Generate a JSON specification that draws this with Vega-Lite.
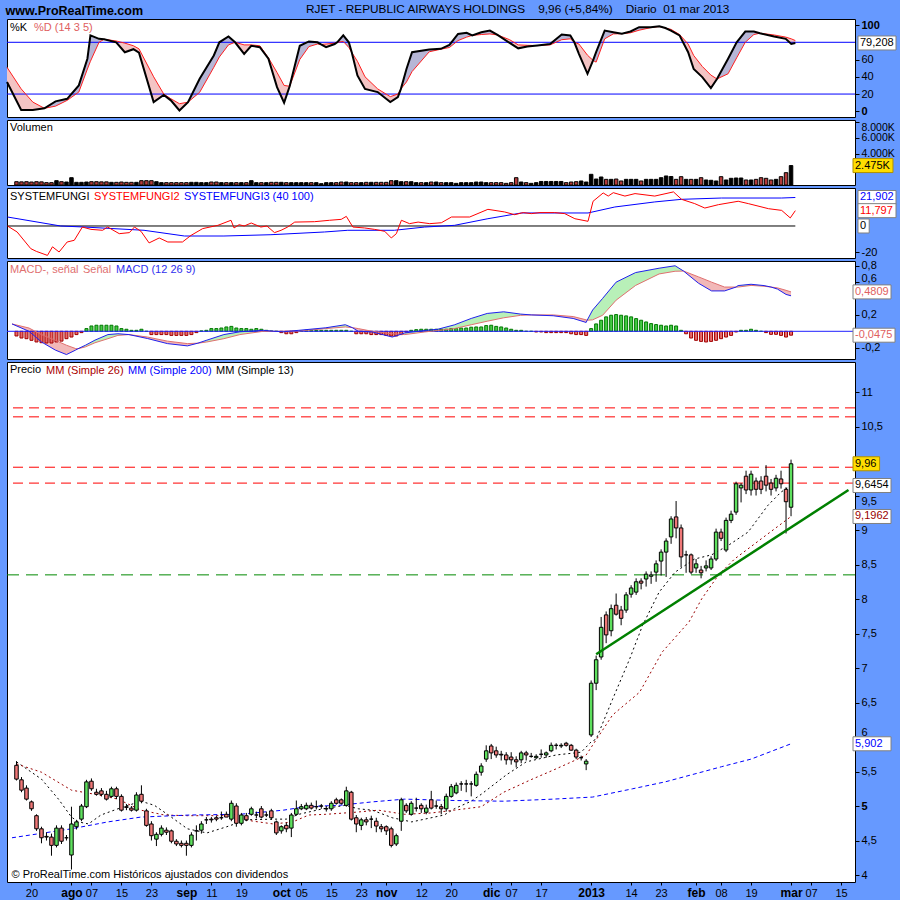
{
"$schema": "https://vega.github.io/schema/vega-lite/v6.json",
"background": "#6699ff",
"padding": {"left": 2, "top": 3, "right": 5, "bottom": 2},
"spacing": 3,
"bounds": "flush",
"title": {"text": "www.ProRealTime.com", "anchor": "start", "fontSize": 12.5, "fontWeight": "bold", "color": "#000000", "offset": -14, "dx": 3, "font": "Liberation Sans"},
"resolve": {"scale": {"color": "independent", "strokeDash": "independent"}, "legend": {"color": "independent", "strokeDash": "independent"}},
"config": {
  "font": "Liberation Sans",
  "view": {"stroke": "#000000", "strokeWidth": 1, "fill": "#ffffff"},
  "axis": {"domain": false, "grid": false, "labelColor": "#000000", "tickColor": "#000000", "labelFontSize": 11, "labelFont": "Liberation Sans", "tickSize": 4, "labelPadding": 2, "titleColor": "#000000"},
  "legend": {"orient": "top-left", "direction": "horizontal", "offset": 3, "padding": 0, "symbolSize": 0, "symbolOpacity": 0, "symbolStrokeWidth": 0, "labelOffset": -11, "columnPadding": 4, "labelFontSize": 11, "labelFont": "Liberation Sans", "labelLimit": 400},
  "locale": {"number": {"decimal": ",", "thousands": ".", "grouping": [3], "currency": ["", ""], "minus": "-"}}
},
"datasets": {
"px": [
{"i":0,"o":5.59,"h":5.65,"l":5.37,"c":5.39,"v":420,"hs":-0.057},
{"i":1,"o":5.38,"h":5.42,"l":5.20,"c":5.23,"v":400,"hs":-0.082},
{"i":2,"o":5.26,"h":5.30,"l":5.08,"c":5.10,"v":420,"hs":-0.09},
{"i":3,"o":5.06,"h":5.08,"l":4.93,"c":4.96,"v":380,"hs":-0.11},
{"i":4,"o":4.86,"h":4.88,"l":4.64,"c":4.67,"v":420,"hs":-0.13},
{"i":5,"o":4.67,"h":4.70,"l":4.46,"c":4.54,"v":400,"hs":-0.139},
{"i":6,"o":4.56,"h":4.62,"l":4.50,"c":4.55,"v":300,"hs":-0.143},
{"i":7,"o":4.55,"h":4.60,"l":4.28,"c":4.43,"v":300,"hs":-0.143},
{"i":8,"o":4.43,"h":4.72,"l":4.40,"c":4.68,"v":550,"hs":-0.13},
{"i":9,"o":4.68,"h":4.72,"l":4.45,"c":4.49,"v":420,"hs":-0.12},
{"i":10,"o":4.54,"h":4.58,"l":4.50,"c":4.54,"v":380,"hs":-0.09},
{"i":11,"o":4.29,"h":4.99,"l":4.08,"c":4.74,"v":930,"hs":-0.07},
{"i":12,"o":4.70,"h":4.80,"l":4.66,"c":4.77,"v":340,"hs":-0.04},
{"i":13,"o":4.81,"h":5.03,"l":4.78,"c":5.00,"v":340,"hs":-0.016},
{"i":14,"o":4.99,"h":5.38,"l":4.97,"c":5.35,"v":380,"hs":0.033},
{"i":15,"o":5.36,"h":5.40,"l":5.22,"c":5.25,"v":420,"hs":0.065},
{"i":16,"o":5.20,"h":5.25,"l":5.15,"c":5.17,"v":420,"hs":0.074},
{"i":17,"o":5.22,"h":5.26,"l":5.14,"c":5.17,"v":400,"hs":0.074},
{"i":18,"o":5.17,"h":5.22,"l":5.08,"c":5.10,"v":400,"hs":0.074},
{"i":19,"o":5.14,"h":5.28,"l":5.12,"c":5.25,"v":340,"hs":0.074},
{"i":20,"o":5.25,"h":5.28,"l":5.10,"c":5.14,"v":340,"hs":0.065},
{"i":21,"o":5.14,"h":5.17,"l":4.92,"c":4.94,"v":380,"hs":0.033},
{"i":22,"o":4.99,"h":5.03,"l":4.94,"c":4.98,"v":340,"hs":0.025},
{"i":23,"o":4.97,"h":5.00,"l":4.92,"c":4.94,"v":340,"hs":0.012},
{"i":24,"o":4.94,"h":5.20,"l":4.92,"c":5.16,"v":340,"hs":0.012},
{"i":25,"o":5.17,"h":5.30,"l":5.04,"c":5.07,"v":550,"hs":0.025},
{"i":26,"o":4.93,"h":4.96,"l":4.70,"c":4.72,"v":550,"hs":0},
{"i":27,"o":4.74,"h":4.78,"l":4.50,"c":4.57,"v":550,"hs":-0.04},
{"i":28,"o":4.52,"h":4.62,"l":4.42,"c":4.59,"v":420,"hs":-0.04},
{"i":29,"o":4.59,"h":4.72,"l":4.56,"c":4.68,"v":300,"hs":-0.04},
{"i":30,"o":4.65,"h":4.69,"l":4.58,"c":4.62,"v":300,"hs":-0.04},
{"i":31,"o":4.64,"h":4.66,"l":4.46,"c":4.49,"v":300,"hs":-0.05},
{"i":32,"o":4.49,"h":4.52,"l":4.42,"c":4.45,"v":300,"hs":-0.05},
{"i":33,"o":4.46,"h":4.50,"l":4.40,"c":4.43,"v":300,"hs":-0.05},
{"i":34,"o":4.46,"h":4.50,"l":4.28,"c":4.43,"v":300,"hs":-0.05},
{"i":35,"o":4.43,"h":4.62,"l":4.40,"c":4.58,"v":340,"hs":-0.04},
{"i":36,"o":4.64,"h":4.72,"l":4.50,"c":4.64,"v":340,"hs":-0.016},
{"i":37,"o":4.65,"h":4.78,"l":4.60,"c":4.74,"v":300,"hs":0.005},
{"i":38,"o":4.80,"h":4.84,"l":4.74,"c":4.80,"v":300,"hs":0.012},
{"i":39,"o":4.81,"h":4.84,"l":4.76,"c":4.80,"v":380,"hs":0.033},
{"i":40,"o":4.83,"h":4.86,"l":4.78,"c":4.81,"v":380,"hs":0.033},
{"i":41,"o":4.83,"h":4.92,"l":4.80,"c":4.83,"v":300,"hs":0.04},
{"i":42,"o":4.88,"h":4.92,"l":4.84,"c":4.84,"v":300,"hs":0.053},
{"i":43,"o":4.81,"h":5.08,"l":4.78,"c":5.04,"v":300,"hs":0.06},
{"i":44,"o":5.00,"h":5.04,"l":4.70,"c":4.75,"v":300,"hs":0.04},
{"i":45,"o":4.75,"h":4.90,"l":4.72,"c":4.87,"v":300,"hs":0.033},
{"i":46,"o":4.86,"h":4.90,"l":4.78,"c":4.80,"v":300,"hs":0.033},
{"i":47,"o":4.88,"h":4.99,"l":4.86,"c":4.96,"v":550,"hs":0.025},
{"i":48,"o":4.87,"h":4.92,"l":4.82,"c":4.87,"v":300,"hs":0.033},
{"i":49,"o":4.96,"h":5.00,"l":4.82,"c":4.84,"v":300,"hs":0.025},
{"i":50,"o":4.87,"h":4.92,"l":4.84,"c":4.87,"v":300,"hs":0.012},
{"i":51,"o":4.93,"h":4.96,"l":4.80,"c":4.83,"v":340,"hs":0.004},
{"i":52,"o":4.77,"h":4.79,"l":4.58,"c":4.61,"v":340,"hs":0},
{"i":53,"o":4.64,"h":4.72,"l":4.60,"c":4.70,"v":340,"hs":-0.016},
{"i":54,"o":4.72,"h":4.76,"l":4.62,"c":4.67,"v":300,"hs":-0.03},
{"i":55,"o":4.68,"h":4.90,"l":4.55,"c":4.87,"v":300,"hs":-0.03},
{"i":56,"o":4.88,"h":5.08,"l":4.86,"c":4.96,"v":300,"hs":-0.016},
{"i":57,"o":4.96,"h":5.03,"l":4.94,"c":4.99,"v":300,"hs":0.005},
{"i":58,"o":4.96,"h":5.05,"l":4.94,"c":5.01,"v":300,"hs":0.012},
{"i":59,"o":5.01,"h":5.05,"l":4.95,"c":4.97,"v":300,"hs":0.012},
{"i":60,"o":4.99,"h":5.08,"l":4.95,"c":4.99,"v":300,"hs":0.012},
{"i":61,"o":5.00,"h":5.03,"l":4.96,"c":5.00,"v":170,"hs":0.012},
{"i":62,"o":4.96,"h":5.00,"l":4.92,"c":4.96,"v":300,"hs":0.012},
{"i":63,"o":4.96,"h":5.07,"l":4.93,"c":5.04,"v":300,"hs":0.012},
{"i":64,"o":5.09,"h":5.12,"l":5.02,"c":5.04,"v":300,"hs":0.012},
{"i":65,"o":5.09,"h":5.11,"l":5.02,"c":5.04,"v":380,"hs":0.012},
{"i":66,"o":5.01,"h":5.28,"l":4.99,"c":5.22,"v":380,"hs":0.012},
{"i":67,"o":5.20,"h":5.22,"l":4.79,"c":4.81,"v":300,"hs":0},
{"i":68,"o":4.83,"h":4.87,"l":4.62,"c":4.74,"v":300,"hs":-0.03},
{"i":69,"o":4.72,"h":4.83,"l":4.65,"c":4.80,"v":300,"hs":-0.03},
{"i":70,"o":4.80,"h":4.84,"l":4.72,"c":4.77,"v":340,"hs":-0.03},
{"i":71,"o":4.81,"h":4.86,"l":4.68,"c":4.81,"v":340,"hs":-0.04},
{"i":72,"o":4.78,"h":4.83,"l":4.62,"c":4.71,"v":340,"hs":-0.04},
{"i":73,"o":4.70,"h":4.74,"l":4.62,"c":4.67,"v":340,"hs":-0.04},
{"i":74,"o":4.70,"h":4.72,"l":4.58,"c":4.64,"v":340,"hs":-0.05},
{"i":75,"o":4.67,"h":4.70,"l":4.40,"c":4.43,"v":550,"hs":-0.057},
{"i":76,"o":4.45,"h":4.60,"l":4.42,"c":4.57,"v":550,"hs":-0.057},
{"i":77,"o":4.78,"h":5.12,"l":4.64,"c":5.09,"v":420,"hs":-0.04},
{"i":78,"o":5.01,"h":5.04,"l":4.90,"c":4.93,"v":420,"hs":-0.01},
{"i":79,"o":4.88,"h":5.07,"l":4.86,"c":5.04,"v":420,"hs":0.012},
{"i":80,"o":4.97,"h":5.12,"l":4.92,"c":4.97,"v":300,"hs":0.02},
{"i":81,"o":5.01,"h":5.04,"l":4.90,"c":4.96,"v":300,"hs":0.025},
{"i":82,"o":4.91,"h":5.02,"l":4.88,"c":4.97,"v":300,"hs":0.025},
{"i":83,"o":5.09,"h":5.22,"l":4.95,"c":4.97,"v":380,"hs":0.025},
{"i":84,"o":5.00,"h":5.08,"l":4.96,"c":5.00,"v":380,"hs":0.025},
{"i":85,"o":4.99,"h":5.03,"l":4.88,"c":4.96,"v":300,"hs":0.025},
{"i":86,"o":4.96,"h":5.18,"l":4.92,"c":5.14,"v":300,"hs":0.025},
{"i":87,"o":5.14,"h":5.32,"l":5.12,"c":5.28,"v":300,"hs":0.033},
{"i":88,"o":5.19,"h":5.34,"l":5.17,"c":5.30,"v":210,"hs":0.033},
{"i":89,"o":5.32,"h":5.36,"l":5.22,"c":5.32,"v":300,"hs":0.04},
{"i":90,"o":5.32,"h":5.38,"l":5.20,"c":5.32,"v":300,"hs":0.04},
{"i":91,"o":5.32,"h":5.36,"l":5.14,"c":5.32,"v":300,"hs":0.05},
{"i":92,"o":5.30,"h":5.50,"l":5.28,"c":5.46,"v":380,"hs":0.053},
{"i":93,"o":5.49,"h":5.62,"l":5.44,"c":5.58,"v":380,"hs":0.053},
{"i":94,"o":5.68,"h":5.88,"l":5.64,"c":5.80,"v":300,"hs":0.07},
{"i":95,"o":5.87,"h":5.90,"l":5.68,"c":5.77,"v":300,"hs":0.074},
{"i":96,"o":5.80,"h":5.86,"l":5.70,"c":5.74,"v":300,"hs":0.06},
{"i":97,"o":5.75,"h":5.80,"l":5.66,"c":5.74,"v":300,"hs":0.053},
{"i":98,"o":5.74,"h":5.78,"l":5.60,"c":5.67,"v":210,"hs":0.04},
{"i":99,"o":5.71,"h":5.78,"l":5.60,"c":5.67,"v":300,"hs":0.025},
{"i":100,"o":5.67,"h":5.72,"l":5.56,"c":5.64,"v":930,"hs":0.012},
{"i":101,"o":5.67,"h":5.80,"l":5.62,"c":5.77,"v":380,"hs":0.012},
{"i":102,"o":5.77,"h":5.80,"l":5.66,"c":5.74,"v":300,"hs":0},
{"i":103,"o":5.72,"h":5.77,"l":5.70,"c":5.72,"v":210,"hs":0},
{"i":104,"o":5.70,"h":5.75,"l":5.68,"c":5.72,"v":300,"hs":-0.008},
{"i":105,"o":5.75,"h":5.82,"l":5.70,"c":5.75,"v":450,"hs":-0.008},
{"i":106,"o":5.74,"h":5.79,"l":5.70,"c":5.77,"v":450,"hs":-0.016},
{"i":107,"o":5.80,"h":5.92,"l":5.78,"c":5.88,"v":450,"hs":-0.016},
{"i":108,"o":5.88,"h":5.91,"l":5.82,"c":5.88,"v":450,"hs":-0.016},
{"i":109,"o":5.87,"h":5.91,"l":5.84,"c":5.88,"v":450,"hs":-0.016},
{"i":110,"o":5.91,"h":5.93,"l":5.86,"c":5.88,"v":300,"hs":-0.016},
{"i":111,"o":5.88,"h":5.90,"l":5.80,"c":5.81,"v":380,"hs":-0.03},
{"i":112,"o":5.81,"h":5.83,"l":5.68,"c":5.71,"v":420,"hs":-0.04},
{"i":113,"o":5.70,"h":5.73,"l":5.66,"c":5.70,"v":510,"hs":-0.04},
{"i":114,"o":5.61,"h":5.68,"l":5.52,"c":5.65,"v":380,"hs":-0.05},
{"i":115,"o":6.03,"h":6.82,"l":6.00,"c":6.78,"v":1360,"hs":0.033},
{"i":116,"o":6.78,"h":7.18,"l":6.68,"c":7.12,"v":760,"hs":0.09},
{"i":117,"o":7.16,"h":7.74,"l":7.12,"c":7.59,"v":1020,"hs":0.135},
{"i":118,"o":7.77,"h":7.82,"l":7.36,"c":7.48,"v":720,"hs":0.176},
{"i":119,"o":7.54,"h":7.92,"l":7.46,"c":7.86,"v":720,"hs":0.196},
{"i":120,"o":7.91,"h":8.08,"l":7.76,"c":7.78,"v":760,"hs":0.204},
{"i":121,"o":7.84,"h":7.90,"l":7.62,"c":7.72,"v":510,"hs":0.196},
{"i":122,"o":7.84,"h":8.10,"l":7.80,"c":8.06,"v":720,"hs":0.188},
{"i":123,"o":8.07,"h":8.20,"l":8.02,"c":8.16,"v":720,"hs":0.176},
{"i":124,"o":8.10,"h":8.30,"l":8.06,"c":8.25,"v":720,"hs":0.155},
{"i":125,"o":8.26,"h":8.30,"l":8.14,"c":8.23,"v":510,"hs":0.135},
{"i":126,"o":8.29,"h":8.40,"l":8.18,"c":8.36,"v":720,"hs":0.114},
{"i":127,"o":8.33,"h":8.40,"l":8.22,"c":8.35,"v":720,"hs":0.094},
{"i":128,"o":8.39,"h":8.56,"l":8.25,"c":8.51,"v":720,"hs":0.082},
{"i":129,"o":8.55,"h":8.72,"l":8.34,"c":8.68,"v":930,"hs":0.074},
{"i":130,"o":8.68,"h":8.88,"l":8.32,"c":8.84,"v":1150,"hs":0.065},
{"i":131,"o":8.90,"h":9.20,"l":8.80,"c":9.16,"v":1080,"hs":0.074},
{"i":132,"o":9.19,"h":9.42,"l":8.88,"c":9.03,"v":720,"hs":0.065},
{"i":133,"o":9.03,"h":9.08,"l":8.46,"c":8.61,"v":1060,"hs":0.012},
{"i":134,"o":8.64,"h":8.70,"l":8.38,"c":8.64,"v":720,"hs":-0.03},
{"i":135,"o":8.64,"h":8.66,"l":8.36,"c":8.39,"v":720,"hs":-0.082},
{"i":136,"o":8.45,"h":8.58,"l":8.38,"c":8.51,"v":720,"hs":-0.11},
{"i":137,"o":8.42,"h":8.48,"l":8.30,"c":8.38,"v":930,"hs":-0.123},
{"i":138,"o":8.45,"h":8.56,"l":8.40,"c":8.48,"v":640,"hs":-0.13},
{"i":139,"o":8.45,"h":8.62,"l":8.42,"c":8.58,"v":600,"hs":-0.123},
{"i":140,"o":8.58,"h":9.02,"l":8.55,"c":8.97,"v":510,"hs":-0.11},
{"i":141,"o":8.97,"h":9.02,"l":8.84,"c":8.88,"v":1060,"hs":-0.09},
{"i":142,"o":8.71,"h":9.18,"l":8.68,"c":9.14,"v":640,"hs":-0.07},
{"i":143,"o":9.14,"h":9.28,"l":9.10,"c":9.23,"v":850,"hs":-0.05},
{"i":144,"o":9.26,"h":9.70,"l":9.22,"c":9.67,"v":890,"hs":-0.008},
{"i":145,"o":9.61,"h":9.68,"l":9.40,"c":9.65,"v":890,"hs":0.012},
{"i":146,"o":9.78,"h":9.86,"l":9.52,"c":9.58,"v":640,"hs":0.012},
{"i":147,"o":9.58,"h":9.86,"l":9.50,"c":9.81,"v":640,"hs":0.025},
{"i":148,"o":9.71,"h":9.76,"l":9.50,"c":9.59,"v":720,"hs":0.012},
{"i":149,"o":9.71,"h":9.78,"l":9.52,"c":9.59,"v":930,"hs":0},
{"i":150,"o":9.78,"h":9.94,"l":9.56,"c":9.65,"v":850,"hs":-0.016},
{"i":151,"o":9.68,"h":9.74,"l":9.50,"c":9.59,"v":640,"hs":-0.037},
{"i":152,"o":9.61,"h":9.80,"l":9.56,"c":9.75,"v":720,"hs":-0.037},
{"i":153,"o":9.74,"h":9.86,"l":9.60,"c":9.67,"v":1060,"hs":-0.05},
{"i":154,"o":9.59,"h":9.62,"l":8.95,"c":9.41,"v":1570,"hs":-0.07},
{"i":155,"o":9.33,"h":10.02,"l":9.20,"c":9.96,"v":2475,"hs":-0.0475}
],
"st": [
{"i":-0.9,"k":34,"d":51,"g":1},{"i":1.9,"k":1.5,"d":26,"g":1},{"i":4.2,"k":1.5,"d":10.7,"g":1},{"i":6.5,"k":3.5,"d":3.5,"g":1},
{"i":6.5,"k":3.5,"d":3.5,"g":2},{"i":8.7,"k":11.5,"d":6,"g":2},{"i":11,"k":14.5,"d":12.7,"g":2},{"i":13.3,"k":30,"d":22.3,"g":2},{"i":15,"k":61,"d":49,"g":2},{"i":15.6,"k":88,"d":58,"g":2},{"i":17.3,"k":84,"d":80,"g":2},{"i":18.3,"k":83.5,"d":83.5,"g":2},
{"i":18.3,"k":83.5,"d":83.5,"g":3},{"i":20.7,"k":80,"d":81.5,"g":3},{"i":22.4,"k":68.5,"d":79,"g":3},{"i":24.1,"k":72,"d":76,"g":3},{"i":25.2,"k":68,"d":72.4,"g":3},{"i":28.1,"k":10.7,"d":40,"g":3},{"i":30.1,"k":19,"d":20,"g":3},{"i":31.5,"k":12.7,"d":14.6,"g":3},{"i":33.2,"k":1,"d":8.8,"g":3},{"i":34.9,"k":10.6,"d":10.6,"g":3},
{"i":34.9,"k":10.6,"d":10.6,"g":4},{"i":37.2,"k":37.7,"d":22,"g":4},{"i":40,"k":64.7,"d":51,"g":4},{"i":41.1,"k":80,"d":63,"g":4},{"i":42.9,"k":86.7,"d":77,"g":4},{"i":44.2,"k":80,"d":80,"g":4},
{"i":44.2,"k":80,"d":80,"g":5},{"i":46,"k":66.6,"d":77,"g":5},{"i":47.4,"k":76,"d":77,"g":5},{"i":49.1,"k":74.3,"d":76,"g":5},{"i":50.8,"k":61,"d":62,"g":5},{"i":52.5,"k":28,"d":45,"g":5},{"i":53.9,"k":10,"d":30,"g":5},{"i":55,"k":29,"d":29,"g":5},
{"i":55,"k":29,"d":29,"g":6},{"i":57,"k":76,"d":60,"g":6},{"i":58.8,"k":81,"d":75,"g":6},{"i":60.5,"k":80,"d":78,"g":6},{"i":61.2,"k":77.5,"d":77.5,"g":6},
{"i":61.2,"k":77.5,"d":77.5,"g":7},{"i":62.2,"k":74.3,"d":78,"g":7},{"i":63.9,"k":78,"d":79,"g":7},{"i":64.4,"k":80,"d":80,"g":7},
{"i":64.4,"k":80,"d":80,"g":8},{"i":65.6,"k":88,"d":81,"g":8},{"i":66.7,"k":80,"d":74,"g":8},{"i":67.3,"k":68,"d":68,"g":8},
{"i":67.3,"k":68,"d":68,"g":9},{"i":68.4,"k":41.6,"d":58,"g":9},{"i":69.9,"k":26,"d":40,"g":9},{"i":72.4,"k":22.3,"d":26,"g":9},{"i":74.9,"k":10.7,"d":17,"g":9},{"i":76.4,"k":16.5,"d":20,"g":9},{"i":77,"k":26,"d":26,"g":9},
{"i":77,"k":26,"d":26,"g":10},{"i":78.1,"k":49,"d":34,"g":10},{"i":79.2,"k":68.5,"d":46,"g":10},{"i":82.6,"k":71.7,"d":69,"g":10},{"i":84.9,"k":72.4,"d":72,"g":10},{"i":86.6,"k":77,"d":74,"g":10},{"i":88.3,"k":89.7,"d":82,"g":10},{"i":90,"k":91,"d":86,"g":10},{"i":91.1,"k":88,"d":88,"g":10},{"i":92.9,"k":91.7,"d":89,"g":10},{"i":94.6,"k":93.6,"d":89.7,"g":10},{"i":96.1,"k":88.5,"d":88.5,"g":10},
{"i":96.1,"k":88.5,"d":88.5,"g":11},{"i":98.5,"k":79.3,"d":83,"g":11},{"i":100.2,"k":73,"d":77,"g":11},{"i":102,"k":75,"d":76.5,"g":11},{"i":104,"k":76.2,"d":76.2,"g":11},
{"i":104,"k":76.2,"d":76.2,"g":12},{"i":106.5,"k":78,"d":77,"g":12},{"i":108.8,"k":89,"d":83,"g":12},{"i":110.5,"k":88,"d":84,"g":12},{"i":111.3,"k":80,"d":80,"g":12},
{"i":111.3,"k":80,"d":80,"g":13},{"i":112.2,"k":66.6,"d":78,"g":13},{"i":113.9,"k":43.5,"d":65,"g":13},{"i":115,"k":59,"d":59,"g":13},
{"i":115,"k":59,"d":59,"g":14},{"i":115.6,"k":68.5,"d":57,"g":14},{"i":117.3,"k":93.6,"d":84,"g":14},{"i":119,"k":91.7,"d":89.7,"g":14},{"i":120.7,"k":90,"d":90,"g":14},{"i":122.4,"k":92.5,"d":91,"g":14},{"i":124.1,"k":97.5,"d":94,"g":14},{"i":126.4,"k":97.5,"d":97,"g":14},{"i":128.1,"k":98.6,"d":98.3,"g":14},{"i":129.3,"k":96.5,"d":96.5,"g":14},
{"i":129.3,"k":96.5,"d":96.5,"g":15},{"i":130.4,"k":93.6,"d":95,"g":15},{"i":132.1,"k":88,"d":89,"g":15},{"i":133.8,"k":68.5,"d":78,"g":15},{"i":134.9,"k":49,"d":64.7,"g":15},{"i":136.6,"k":39.7,"d":52,"g":15},{"i":138.3,"k":27,"d":42,"g":15},{"i":139.5,"k":37.5,"d":37.5,"g":15},
{"i":139.5,"k":37.5,"d":37.5,"g":16},{"i":141.7,"k":61,"d":43.5,"g":16},{"i":143.4,"k":80,"d":62,"g":16},{"i":145.1,"k":92.5,"d":80,"g":16},{"i":146.8,"k":92.5,"d":89,"g":16},{"i":148,"k":90.5,"d":90.5,"g":16},
{"i":148,"k":90.5,"d":90.5,"g":17},{"i":150.8,"k":86.7,"d":88.5,"g":17},{"i":153.1,"k":84,"d":86,"g":17},{"i":154.2,"k":78,"d":84,"g":17},{"i":155,"k":79.208,"d":82,"g":17}
],
"macd": [
{"i":-0.9,"m":0.09,"s":0.09,"g":1},{"i":2.5,"m":0.0,"s":0.04,"g":1},{"i":5,"m":-0.13,"s":-0.04,"g":1},{"i":7.8,"m":-0.23,"s":-0.11,"g":1},{"i":10,"m":-0.284,"s":-0.17,"g":1},{"i":11.8,"m":-0.23,"s":-0.21,"g":1},{"i":12.3,"m":-0.213,"s":-0.213,"g":1},
{"i":12.3,"m":-0.213,"s":-0.213,"g":2},{"i":13.8,"m":-0.17,"s":-0.19,"g":2},{"i":15.7,"m":-0.108,"s":-0.14,"g":2},{"i":18.3,"m":-0.04,"s":-0.09,"g":2},{"i":20.3,"m":-0.03,"s":-0.05,"g":2},{"i":22.5,"m":-0.04,"s":-0.04,"g":2},
{"i":22.5,"m":-0.04,"s":-0.04,"g":3},{"i":26.2,"m":-0.088,"s":-0.07,"g":3},{"i":30.2,"m":-0.15,"s":-0.12,"g":3},{"i":34.2,"m":-0.178,"s":-0.15,"g":3},{"i":36.3,"m":-0.145,"s":-0.145,"g":3},
{"i":36.3,"m":-0.145,"s":-0.145,"g":4},{"i":38.1,"m":-0.108,"s":-0.13,"g":4},{"i":41.5,"m":-0.04,"s":-0.09,"g":4},{"i":44.7,"m":-0.006,"s":-0.04,"g":4},{"i":49.4,"m":0.012,"s":0.0,"g":4},{"i":51.5,"m":0.0,"s":0.0,"g":4},
{"i":51.5,"m":0.0,"s":0.0,"g":5},{"i":53.4,"m":-0.006,"s":0.0,"g":5},{"i":55,"m":0.004,"s":0.004,"g":5},
{"i":55,"m":0.004,"s":0.004,"g":6},{"i":56.5,"m":0.012,"s":0.004,"g":6},{"i":61.9,"m":0.043,"s":0.033,"g":6},{"i":65.8,"m":0.08,"s":0.053,"g":6},{"i":67.2,"m":0.045,"s":0.045,"g":6},
{"i":67.2,"m":0.045,"s":0.045,"g":7},{"i":68.4,"m":0.0,"s":0.033,"g":7},{"i":71.2,"m":-0.008,"s":0.0,"g":7},{"i":75.2,"m":-0.07,"s":-0.03,"g":7},{"i":77,"m":-0.035,"s":-0.035,"g":7},
{"i":77,"m":-0.035,"s":-0.035,"g":8},{"i":77.7,"m":-0.02,"s":-0.04,"g":8},{"i":81.7,"m":0.01,"s":-0.008,"g":8},{"i":84.3,"m":0.025,"s":0.01,"g":8},{"i":87.6,"m":0.078,"s":0.033,"g":8},{"i":91,"m":0.157,"s":0.08,"g":8},{"i":94.2,"m":0.218,"s":0.123,"g":8},{"i":97.5,"m":0.238,"s":0.165,"g":8},{"i":100.9,"m":0.21,"s":0.195,"g":8},{"i":103,"m":0.2,"s":0.2,"g":8},
{"i":103,"m":0.2,"s":0.2,"g":9},{"i":107.4,"m":0.19,"s":0.2,"g":9},{"i":111.4,"m":0.157,"s":0.18,"g":9},{"i":114,"m":0.108,"s":0.14,"g":9},{"i":114.2,"m":0.135,"s":0.135,"g":9},
{"i":114.2,"m":0.135,"s":0.135,"g":10},{"i":115.3,"m":0.26,"s":0.14,"g":10},{"i":117.3,"m":0.402,"s":0.196,"g":10},{"i":120,"m":0.6,"s":0.38,"g":10},{"i":123.9,"m":0.717,"s":0.56,"g":10},{"i":128.6,"m":0.77,"s":0.7,"g":10},{"i":131.8,"m":0.8,"s":0.733,"g":10},{"i":133.5,"m":0.735,"s":0.735,"g":10},
{"i":133.5,"m":0.735,"s":0.735,"g":11},{"i":136.5,"m":0.586,"s":0.664,"g":11},{"i":139.1,"m":0.493,"s":0.6,"g":11},{"i":141.7,"m":0.493,"s":0.54,"g":11},{"i":144,"m":0.54,"s":0.54,"g":11},
{"i":144,"m":0.54,"s":0.54,"g":12},{"i":144.4,"m":0.558,"s":0.54,"g":12},{"i":147,"m":0.574,"s":0.56,"g":12},{"i":149.6,"m":0.558,"s":0.55,"g":12},{"i":151,"m":0.54,"s":0.54,"g":12},
{"i":151,"m":0.54,"s":0.54,"g":13},{"i":152.3,"m":0.515,"s":0.53,"g":13},{"i":154,"m":0.45,"s":0.5,"g":13},{"i":155,"m":0.4334,"s":0.4809,"g":13}
],
"sf1": [{"i":-0.9,"v":0},{"i":155,"v":0}],
"sf2": [
{"i":-0.8,"v":0},{"i":1.1,"v":-4.6},{"i":3.8,"v":-17.4},{"i":4.9,"v":-19.5},{"i":7.1,"v":-22.6},{"i":8.1,"v":-16},{"i":9.4,"v":-20},{"i":11,"v":-12.3},{"i":12.4,"v":-11},{"i":14,"v":-0.8},{"i":15.7,"v":-2.6},{"i":18,"v":-3.3},{"i":19,"v":-0.8},{"i":21.3,"v":-5.9},{"i":23.3,"v":-5.1},{"i":24.3,"v":-0.8},{"i":25.6,"v":-4.1},{"i":27.2,"v":-13},{"i":29.2,"v":-9.2},{"i":30.9,"v":-12.3},{"i":33.8,"v":-12.3},{"i":35.5,"v":-7.2},{"i":37.8,"v":-2},{"i":40.8,"v":0.5},{"i":43.4,"v":4.4},{"i":44,"v":-1.5},{"i":45,"v":1},{"i":46,"v":0},{"i":47.4,"v":2.3},{"i":49.3,"v":-0.8},{"i":50.5,"v":0},{"i":52,"v":-5.1},{"i":53.3,"v":-3.3},{"i":54.6,"v":-0.8},{"i":56,"v":3},{"i":59.9,"v":3.3},{"i":62.9,"v":4.4},{"i":65.2,"v":5.1},{"i":66.2,"v":7.4},{"i":67.5,"v":-0.8},{"i":69.8,"v":-1.5},{"i":71.8,"v":-2.6},{"i":73.8,"v":-4.1},{"i":75.1,"v":-9.2},{"i":76.1,"v":-5.9},{"i":77.1,"v":4.4},{"i":78.7,"v":1.8},{"i":80.4,"v":3},{"i":82.7,"v":1.8},{"i":85,"v":2.5},{"i":87,"v":6.9},{"i":90.6,"v":6.9},{"i":94.2,"v":12.8},{"i":97.5,"v":10.8},{"i":99.5,"v":8.7},{"i":101.2,"v":10.3},{"i":102.8,"v":9.5},{"i":104.5,"v":10.3},{"i":107.4,"v":10.3},{"i":109.4,"v":9.5},{"i":111.4,"v":5.6},{"i":114,"v":3.6},{"i":115,"v":19},{"i":117,"v":25.4},{"i":118,"v":23},{"i":119,"v":25.6},{"i":121.3,"v":23},{"i":123.3,"v":24.9},{"i":127.2,"v":23},{"i":130.9,"v":26.2},{"i":132.5,"v":20.5},{"i":135.1,"v":17.2},{"i":137.1,"v":13.8},{"i":139.8,"v":16.4},{"i":143.7,"v":19},{"i":145.7,"v":17.2},{"i":149.7,"v":13.3},{"i":152.3,"v":12},{"i":154,"v":6.2},{"i":155,"v":11.797}
],
"sf3": [
{"i":-0.8,"v":6.9},{"i":9.7,"v":0},{"i":14.4,"v":-0.8},{"i":26.2,"v":-3.3},{"i":34.2,"v":-7.7},{"i":42,"v":-7.7},{"i":51.3,"v":-6.7},{"i":61.9,"v":-4.6},{"i":66.5,"v":-3.3},{"i":75.7,"v":-3.3},{"i":81.7,"v":-0.8},{"i":87.6,"v":0.5},{"i":94.2,"v":5.6},{"i":100.8,"v":10},{"i":114,"v":10},{"i":119.3,"v":14.6},{"i":127.2,"v":18.5},{"i":132.5,"v":20.5},{"i":140.4,"v":21.5},{"i":152.3,"v":21.5},{"i":155,"v":21.902}
],
"ma": [
{"i":0,"v":5.64,"s":"13"},{"i":5,"v":5.39,"s":"13"},{"i":8.4,"v":5.10,"s":"13"},{"i":11,"v":4.84,"s":"13"},{"i":12.4,"v":4.77,"s":"13"},{"i":14.4,"v":4.74,"s":"13"},{"i":16.9,"v":4.87,"s":"13"},{"i":20.3,"v":4.96,"s":"13"},{"i":24.9,"v":5.07,"s":"13"},{"i":27.6,"v":5.01,"s":"13"},{"i":30.2,"v":4.88,"s":"13"},{"i":34.2,"v":4.67,"s":"13"},{"i":38.1,"v":4.61,"s":"13"},{"i":42.1,"v":4.70,"s":"13"},{"i":46,"v":4.80,"s":"13"},{"i":51.4,"v":4.81,"s":"13"},{"i":54,"v":4.81,"s":"13"},{"i":56.5,"v":4.88,"s":"13"},{"i":61.3,"v":4.96,"s":"13"},{"i":65.8,"v":5.01,"s":"13"},{"i":68.4,"v":4.96,"s":"13"},{"i":71.2,"v":4.94,"s":"13"},{"i":75.2,"v":4.83,"s":"13"},{"i":79.1,"v":4.77,"s":"13"},{"i":81.7,"v":4.81,"s":"13"},{"i":85.6,"v":4.87,"s":"13"},{"i":87.6,"v":4.96,"s":"13"},{"i":91,"v":5.07,"s":"13"},{"i":93,"v":5.17,"s":"13"},{"i":98,"v":5.45,"s":"13"},{"i":102,"v":5.64,"s":"13"},{"i":108,"v":5.74,"s":"13"},{"i":113,"v":5.78,"s":"13"},{"i":115,"v":5.93,"s":"13"},{"i":116,"v":5.97,"s":"13"},{"i":119.3,"v":6.55,"s":"13"},{"i":122.7,"v":7.13,"s":"13"},{"i":125.3,"v":7.62,"s":"13"},{"i":128.6,"v":8.10,"s":"13"},{"i":131.8,"v":8.39,"s":"13"},{"i":135.7,"v":8.58,"s":"13"},{"i":139.1,"v":8.64,"s":"13"},{"i":142.5,"v":8.78,"s":"13"},{"i":146.4,"v":8.97,"s":"13"},{"i":150.4,"v":9.36,"s":"13"},{"i":153,"v":9.55,"s":"13"},{"i":155,"v":9.6454,"s":"13"},
{"i":0,"v":5.61,"s":"26"},{"i":5,"v":5.49,"s":"26"},{"i":11,"v":5.23,"s":"26"},{"i":15.7,"v":5.17,"s":"26"},{"i":20.3,"v":5.10,"s":"26"},{"i":24.9,"v":4.94,"s":"26"},{"i":29.6,"v":4.87,"s":"26"},{"i":34.2,"v":4.86,"s":"26"},{"i":41.5,"v":4.86,"s":"26"},{"i":47.4,"v":4.78,"s":"26"},{"i":51.4,"v":4.74,"s":"26"},{"i":55.3,"v":4.77,"s":"26"},{"i":58.5,"v":4.87,"s":"26"},{"i":61.9,"v":4.88,"s":"26"},{"i":67.8,"v":4.91,"s":"26"},{"i":72.4,"v":4.94,"s":"26"},{"i":77.7,"v":4.88,"s":"26"},{"i":83.1,"v":4.90,"s":"26"},{"i":87.6,"v":4.94,"s":"26"},{"i":93,"v":4.99,"s":"26"},{"i":97.5,"v":5.20,"s":"26"},{"i":102.9,"v":5.38,"s":"26"},{"i":107.4,"v":5.52,"s":"26"},{"i":112,"v":5.67,"s":"26"},{"i":114,"v":5.74,"s":"26"},{"i":119.3,"v":6.32,"s":"26"},{"i":124.7,"v":6.65,"s":"26"},{"i":129.2,"v":7.23,"s":"26"},{"i":134.6,"v":7.67,"s":"26"},{"i":137.1,"v":8.0,"s":"26"},{"i":140.5,"v":8.35,"s":"26"},{"i":143.7,"v":8.58,"s":"26"},{"i":149,"v":8.87,"s":"26"},{"i":155,"v":9.1962,"s":"26"},
{"i":-0.9,"v":4.54,"s":"200"},{"i":11,"v":4.67,"s":"200"},{"i":18.3,"v":4.77,"s":"200"},{"i":24.9,"v":4.84,"s":"200"},{"i":34.8,"v":4.87,"s":"200"},{"i":44.7,"v":4.88,"s":"200"},{"i":53.4,"v":4.94,"s":"200"},{"i":57.9,"v":4.99,"s":"200"},{"i":64.5,"v":5.01,"s":"200"},{"i":71.2,"v":5.06,"s":"200"},{"i":77.7,"v":5.10,"s":"200"},{"i":87.6,"v":5.08,"s":"200"},{"i":97.5,"v":5.07,"s":"200"},{"i":107.4,"v":5.10,"s":"200"},{"i":115.3,"v":5.13,"s":"200"},{"i":123.3,"v":5.25,"s":"200"},{"i":129.8,"v":5.35,"s":"200"},{"i":136.5,"v":5.48,"s":"200"},{"i":141.1,"v":5.57,"s":"200"},{"i":147,"v":5.68,"s":"200"},{"i":155,"v":5.902,"s":"200"}
],
"tr": [{"i":116,"p":7.2},{"i":166.5,"p":9.58}],
"res": [{"p":10.77},{"p":10.64},{"p":9.91},{"p":9.68}],
"sup": [{"p":8.35}],
"stl": [{"p":80},{"p":20}],
"zero": [{"p":0}]
},
"vconcat": [
{
 "width": 848, "height": 98,
 "title": {"text": "RJET - REPUBLIC AIRWAYS HOLDINGS\u00a0\u00a0\u00a0\u00a09,96 (+5,84%)\u00a0\u00a0\u00a0\u00a0Diario\u00a0\u00a001 mar 2013", "anchor": "start", "dx": 303, "fontSize": 11.8, "fontWeight": "normal", "color": "#000000", "offset": 3},
 "layer": [
  {"data": {"name": "st"}, "mark": {"type": "area", "opacity": 1},
   "encoding": {
    "x": {"field": "i", "type": "quantitative", "scale": {"domain": [-0.9, 166.8], "nice": false, "zero": false}, "axis": null},
    "y": {"field": "k", "type": "quantitative", "scale": {"domain": [-6.6, 107], "nice": false, "zero": false},
          "axis": {"orient": "right", "values": [0, 20, 40, 60, 100], "title": null, "labelFontWeight": {"condition": {"test": "datum.value == 0 || datum.value == 100", "value": "bold"}, "value": "normal"}}},
    "y2": {"field": "d"},
    "detail": {"field": "g", "type": "nominal"},
    "fill": {"condition": {"test": "datum.g % 2 == 1", "value": "#f4c4c4"}, "value": "#b6b6d6"}}},
  {"data": {"name": "stl"}, "mark": {"type": "rule", "color": "#0000ff", "strokeWidth": 1},
   "encoding": {"y": {"field": "p", "type": "quantitative", "scale": {"domain": [-6.6, 107], "nice": false, "zero": false},
          "axis": {"orient": "right", "values": [0, 20, 40, 60, 100], "title": null, "labelFontWeight": {"condition": {"test": "datum.value == 0 || datum.value == 100", "value": "bold"}, "value": "normal"}}}}},
  {"data": {"name": "st"}, "mark": {"type": "line", "strokeWidth": 1},
   "encoding": {
    "x": {"field": "i", "type": "quantitative", "scale": {"domain": [-0.9, 166.8], "nice": false, "zero": false}, "axis": null},
    "y": {"field": "d", "type": "quantitative", "scale": {"domain": [-6.6, 107], "nice": false, "zero": false},
          "axis": {"orient": "right", "values": [0, 20, 40, 60, 100], "title": null, "labelFontWeight": {"condition": {"test": "datum.value == 0 || datum.value == 100", "value": "bold"}, "value": "normal"}}},
    "color": {"datum": "%D (14 3 5)", "type": "nominal", "scale": {"domain": ["%K", "%D (14 3 5)"], "range": ["#000000", "#ff2020"]},
      "legend": {"title": null, "columnPadding": 6, "labelColor": {"expr": "datum.value == '%K' ? '#000000' : '#e06060'"}}}}},
  {"data": {"name": "st"}, "mark": {"type": "line", "strokeWidth": 2},
   "encoding": {
    "x": {"field": "i", "type": "quantitative", "scale": {"domain": [-0.9, 166.8], "nice": false, "zero": false}, "axis": null},
    "y": {"field": "k", "type": "quantitative", "scale": {"domain": [-6.6, 107], "nice": false, "zero": false},
          "axis": {"orient": "right", "values": [0, 20, 40, 60, 100], "title": null, "labelFontWeight": {"condition": {"test": "datum.value == 0 || datum.value == 100", "value": "bold"}, "value": "normal"}}},
    "color": {"datum": "%K", "type": "nominal"}}},
  {"data": {"name": "st"}, "transform": [{"filter": "datum.i == 155"}],
   "mark": {"type": "point", "shape": "M0,-1H5.43V1H0Z", "size": 196, "filled": true, "fill": "#ffffff", "stroke": "#808080", "strokeWidth": 1, "opacity": 1, "xOffset": 3},
   "encoding": {
    "x": {"datum": 166.8, "type": "quantitative", "scale": {"domain": [-0.9, 166.8], "nice": false, "zero": false}, "axis": null},
    "y": {"field": "k", "type": "quantitative", "scale": {"domain": [-6.6, 107], "nice": false, "zero": false},
          "axis": {"orient": "right", "values": [0, 20, 40, 60, 100], "title": null, "labelFontWeight": {"condition": {"test": "datum.value == 0 || datum.value == 100", "value": "bold"}, "value": "normal"}}}}},
  {"data": {"name": "st"}, "transform": [{"filter": "datum.i == 155"}],
   "mark": {"type": "text", "align": "left", "baseline": "middle", "dx": 5, "fontSize": 11, "color": "#000000"},
   "encoding": {
    "x": {"datum": 166.8, "type": "quantitative", "scale": {"domain": [-0.9, 166.8], "nice": false, "zero": false}, "axis": null},
    "y": {"field": "k", "type": "quantitative", "scale": {"domain": [-6.6, 107], "nice": false, "zero": false},
          "axis": {"orient": "right", "values": [0, 20, 40, 60, 100], "title": null, "labelFontWeight": {"condition": {"test": "datum.value == 0 || datum.value == 100", "value": "bold"}, "value": "normal"}}},
    "text": {"field": "k", "type": "quantitative", "format": ".5~r"}}}
 ]
},
{
 "width": 848, "height": 65,
 "title": {"text": "Volumen", "anchor": "start", "dx": 3, "offset": -13, "fontSize": 11, "fontWeight": "normal", "color": "#000000"},
 "layer": [
  {"data": {"name": "px"}, "mark": {"type": "bar", "size": 3.5, "stroke": "#000000", "strokeWidth": 1},
   "encoding": {
    "x": {"field": "i", "type": "quantitative", "scale": {"domain": [-0.9, 166.8], "nice": false, "zero": false}, "axis": null},
    "y": {"field": "v", "type": "quantitative", "scale": {"domain": [0, 8280], "nice": false, "zero": false},
          "axis": {"orient": "right", "values": [4000, 6000, 8000], "title": null, "labelExpr": "format(datum.value, ',.0f') + 'K'", "labelFlush": 5, "labelOverlap": false, "labelFontSize": 10.5}},
    "fill": {"condition": {"test": "datum.c >= datum.o", "value": "#000000"}, "value": "#b33a3a"}}},
  {"data": {"name": "px"}, "transform": [{"filter": "datum.i == 155"}],
   "mark": {"type": "point", "shape": "M0,-1H5.71V1H0Z", "size": 196, "filled": true, "fill": "#ffdd00", "stroke": "#b09000", "strokeWidth": 1, "opacity": 1, "xOffset": 3},
   "encoding": {
    "x": {"datum": 166.8, "type": "quantitative", "scale": {"domain": [-0.9, 166.8], "nice": false, "zero": false}, "axis": null},
    "y": {"field": "v", "type": "quantitative", "scale": {"domain": [0, 8280], "nice": false, "zero": false},
          "axis": {"orient": "right", "values": [4000, 6000, 8000], "title": null, "labelExpr": "format(datum.value, ',.0f') + 'K'", "labelFlush": 5, "labelOverlap": false, "labelFontSize": 10.5}}}},
  {"data": {"name": "px"}, "transform": [{"filter": "datum.i == 155"}],
   "mark": {"type": "text", "align": "left", "baseline": "middle", "dx": 5, "fontSize": 11, "color": "#000000", "text": {"expr": "format(datum.v, ',.0f') + 'K'"}},
   "encoding": {
    "x": {"datum": 166.8, "type": "quantitative", "scale": {"domain": [-0.9, 166.8], "nice": false, "zero": false}, "axis": null},
    "y": {"field": "v", "type": "quantitative", "scale": {"domain": [0, 8280], "nice": false, "zero": false},
          "axis": {"orient": "right", "values": [4000, 6000, 8000], "title": null, "labelExpr": "format(datum.value, ',.0f') + 'K'", "labelFlush": 5, "labelOverlap": false, "labelFontSize": 10.5}}}}
 ]
},
{
 "width": 848, "height": 70,
 "layer": [
  {"data": {"name": "sf1"}, "mark": {"type": "line", "strokeWidth": 1},
   "encoding": {
    "x": {"field": "i", "type": "quantitative", "scale": {"domain": [-0.9, 166.8], "nice": false, "zero": false}, "axis": null},
    "y": {"field": "v", "type": "quantitative", "scale": {"domain": [-24.6, 29.2], "nice": false, "zero": false}, "axis": {"orient": "right", "values": [-20], "title": null}},
    "color": {"datum": "SYSTEMFUNGI", "type": "nominal", "scale": {"domain": ["SYSTEMFUNGI", "SYSTEMFUNGI2", "SYSTEMFUNGI3 (40 100)"], "range": ["#000000", "#ff0000", "#0000ff"]},
      "legend": {"title": null, "labelColor": {"expr": "datum.value == 'SYSTEMFUNGI' ? '#000000' : (datum.value == 'SYSTEMFUNGI2' ? '#ff0000' : '#0000ff')"}}}}},
  {"data": {"name": "sf3"}, "mark": {"type": "line", "strokeWidth": 1},
   "encoding": {
    "x": {"field": "i", "type": "quantitative", "scale": {"domain": [-0.9, 166.8], "nice": false, "zero": false}, "axis": null},
    "y": {"field": "v", "type": "quantitative", "scale": {"domain": [-24.6, 29.2], "nice": false, "zero": false}, "axis": {"orient": "right", "values": [-20], "title": null}},
    "color": {"datum": "SYSTEMFUNGI3 (40 100)", "type": "nominal"}}},
  {"data": {"name": "sf2"}, "mark": {"type": "line", "strokeWidth": 1},
   "encoding": {
    "x": {"field": "i", "type": "quantitative", "scale": {"domain": [-0.9, 166.8], "nice": false, "zero": false}, "axis": null},
    "y": {"field": "v", "type": "quantitative", "scale": {"domain": [-24.6, 29.2], "nice": false, "zero": false}, "axis": {"orient": "right", "values": [-20], "title": null}},
    "color": {"datum": "SYSTEMFUNGI2", "type": "nominal"}}},
  {"data": {"name": "sf3"}, "transform": [{"filter": "datum.i == 155"}],
   "mark": {"type": "point", "shape": "M0,-1H5.43V1H0Z", "size": 196, "filled": true, "fill": "#ffffff", "stroke": "#808080", "strokeWidth": 1, "opacity": 1, "xOffset": 3},
   "encoding": {
    "x": {"datum": 166.8, "type": "quantitative", "scale": {"domain": [-0.9, 166.8], "nice": false, "zero": false}, "axis": null},
    "y": {"field": "v", "type": "quantitative", "scale": {"domain": [-24.6, 29.2], "nice": false, "zero": false}, "axis": {"orient": "right", "values": [-20], "title": null}}}},
  {"data": {"name": "sf3"}, "transform": [{"filter": "datum.i == 155"}],
   "mark": {"type": "text", "align": "left", "baseline": "middle", "dx": 5, "fontSize": 11, "color": "#0000ff"},
   "encoding": {
    "x": {"datum": 166.8, "type": "quantitative", "scale": {"domain": [-0.9, 166.8], "nice": false, "zero": false}, "axis": null},
    "y": {"field": "v", "type": "quantitative", "scale": {"domain": [-24.6, 29.2], "nice": false, "zero": false}, "axis": {"orient": "right", "values": [-20], "title": null}},
    "text": {"field": "v", "type": "quantitative", "format": ".5~r"}}},
  {"data": {"name": "sf2"}, "transform": [{"filter": "datum.i == 155"}],
   "mark": {"type": "point", "shape": "M0,-1H5.43V1H0Z", "size": 196, "filled": true, "fill": "#ffffff", "stroke": "#808080", "strokeWidth": 1, "opacity": 1, "xOffset": 3},
   "encoding": {
    "x": {"datum": 166.8, "type": "quantitative", "scale": {"domain": [-0.9, 166.8], "nice": false, "zero": false}, "axis": null},
    "y": {"field": "v", "type": "quantitative", "scale": {"domain": [-24.6, 29.2], "nice": false, "zero": false}, "axis": {"orient": "right", "values": [-20], "title": null}}}},
  {"data": {"name": "sf2"}, "transform": [{"filter": "datum.i == 155"}],
   "mark": {"type": "text", "align": "left", "baseline": "middle", "dx": 5, "fontSize": 11, "color": "#ff0000"},
   "encoding": {
    "x": {"datum": 166.8, "type": "quantitative", "scale": {"domain": [-0.9, 166.8], "nice": false, "zero": false}, "axis": null},
    "y": {"field": "v", "type": "quantitative", "scale": {"domain": [-24.6, 29.2], "nice": false, "zero": false}, "axis": {"orient": "right", "values": [-20], "title": null}},
    "text": {"field": "v", "type": "quantitative", "format": ".5~r"}}},
  {"data": {"name": "sf1"}, "transform": [{"filter": "datum.i == 155"}],
   "mark": {"type": "point", "shape": "M0,-1H1.6V1H0Z", "size": 196, "filled": true, "fill": "#ffffff", "stroke": "#808080", "strokeWidth": 1, "opacity": 1, "xOffset": 3},
   "encoding": {
    "x": {"datum": 166.8, "type": "quantitative", "scale": {"domain": [-0.9, 166.8], "nice": false, "zero": false}, "axis": null},
    "y": {"field": "v", "type": "quantitative", "scale": {"domain": [-24.6, 29.2], "nice": false, "zero": false}, "axis": {"orient": "right", "values": [-20], "title": null}}}},
  {"data": {"name": "sf1"}, "transform": [{"filter": "datum.i == 155"}],
   "mark": {"type": "text", "align": "left", "baseline": "middle", "dx": 5, "fontSize": 11, "color": "#000000"},
   "encoding": {
    "x": {"datum": 166.8, "type": "quantitative", "scale": {"domain": [-0.9, 166.8], "nice": false, "zero": false}, "axis": null},
    "y": {"field": "v", "type": "quantitative", "scale": {"domain": [-24.6, 29.2], "nice": false, "zero": false}, "axis": {"orient": "right", "values": [-20], "title": null}},
    "text": {"field": "v", "type": "quantitative", "format": ".5~r"}}}
 ]
},
{
 "width": 848, "height": 98,
 "layer": [
  {"data": {"name": "macd"}, "mark": {"type": "area", "opacity": 1},
   "encoding": {
    "x": {"field": "i", "type": "quantitative", "scale": {"domain": [-0.9, 166.8], "nice": false, "zero": false}, "axis": null},
    "y": {"field": "m", "type": "quantitative", "scale": {"domain": [-0.338, 0.858], "nice": false, "zero": false}, "axis": {"orient": "right", "values": [-0.2, 0.2, 0.6, 0.8], "format": ".1~f", "title": null, "labelOverlap": false, "labelBaseline": {"condition": {"test": "datum.value == 0.6", "value": "bottom"}, "value": "middle"}, "labelOffset": {"condition": {"test": "datum.value == 0.6", "value": 1}, "value": 0}}},
    "y2": {"field": "s"},
    "detail": {"field": "g", "type": "nominal"},
    "fill": {"condition": {"test": "datum.g % 2 == 1", "value": "#f2b8b8"}, "value": "#b8f0b8"}}},
  {"data": {"name": "px"}, "mark": {"type": "bar", "size": 3, "strokeWidth": 1},
   "encoding": {
    "x": {"field": "i", "type": "quantitative", "scale": {"domain": [-0.9, 166.8], "nice": false, "zero": false}, "axis": null},
    "y": {"field": "hs", "type": "quantitative", "scale": {"domain": [-0.338, 0.858], "nice": false, "zero": false}, "axis": {"orient": "right", "values": [-0.2, 0.2, 0.6, 0.8], "format": ".1~f", "title": null, "labelOverlap": false, "labelBaseline": {"condition": {"test": "datum.value == 0.6", "value": "bottom"}, "value": "middle"}, "labelOffset": {"condition": {"test": "datum.value == 0.6", "value": 1}, "value": 0}}},
    "fill": {"condition": {"test": "datum.hs >= 0", "value": "#44cc44"}, "value": "#e86a6a"},
    "stroke": {"condition": {"test": "datum.hs >= 0", "value": "#007700"}, "value": "#a00000"}}},
  {"data": {"name": "zero"}, "mark": {"type": "rule", "color": "#2020ff", "strokeWidth": 1},
   "encoding": {"y": {"field": "p", "type": "quantitative", "scale": {"domain": [-0.338, 0.858], "nice": false, "zero": false}, "axis": {"orient": "right", "values": [-0.2, 0.2, 0.6, 0.8], "format": ".1~f", "title": null, "labelOverlap": false, "labelBaseline": {"condition": {"test": "datum.value == 0.6", "value": "bottom"}, "value": "middle"}, "labelOffset": {"condition": {"test": "datum.value == 0.6", "value": 1}, "value": 0}}}}},
  {"data": {"name": "macd"}, "mark": {"type": "line", "strokeWidth": 1},
   "encoding": {
    "x": {"field": "i", "type": "quantitative", "scale": {"domain": [-0.9, 166.8], "nice": false, "zero": false}, "axis": null},
    "y": {"field": "s", "type": "quantitative", "scale": {"domain": [-0.338, 0.858], "nice": false, "zero": false}, "axis": {"orient": "right", "values": [-0.2, 0.2, 0.6, 0.8], "format": ".1~f", "title": null, "labelOverlap": false, "labelBaseline": {"condition": {"test": "datum.value == 0.6", "value": "bottom"}, "value": "middle"}, "labelOffset": {"condition": {"test": "datum.value == 0.6", "value": 1}, "value": 0}}},
    "color": {"datum": "Señal", "type": "nominal", "scale": {"domain": ["MACD-, señal", "Señal", "MACD (12 26 9)"], "range": ["#e07070", "#e07070", "#2020ee"]},
      "legend": {"title": null, "labelColor": {"expr": "datum.value == 'MACD (12 26 9)' ? '#3030ee' : '#e07070'"}}}}},
  {"data": {"name": "macd"}, "mark": {"type": "line", "strokeWidth": 1},
   "encoding": {
    "x": {"field": "i", "type": "quantitative", "scale": {"domain": [-0.9, 166.8], "nice": false, "zero": false}, "axis": null},
    "y": {"field": "m", "type": "quantitative", "scale": {"domain": [-0.338, 0.858], "nice": false, "zero": false}, "axis": {"orient": "right", "values": [-0.2, 0.2, 0.6, 0.8], "format": ".1~f", "title": null, "labelOverlap": false, "labelBaseline": {"condition": {"test": "datum.value == 0.6", "value": "bottom"}, "value": "middle"}, "labelOffset": {"condition": {"test": "datum.value == 0.6", "value": 1}, "value": 0}}},
    "color": {"datum": "MACD (12 26 9)", "type": "nominal"}}},
  {"data": {"name": "macd"}, "transform": [{"filter": "datum.i == 155"}],
   "mark": {"type": "point", "shape": "M0,-1H5.43V1H0Z", "size": 196, "filled": true, "fill": "#ffffff", "stroke": "#808080", "strokeWidth": 1, "opacity": 1, "xOffset": 3},
   "encoding": {
    "x": {"datum": 166.8, "type": "quantitative", "scale": {"domain": [-0.9, 166.8], "nice": false, "zero": false}, "axis": null},
    "y": {"field": "s", "type": "quantitative", "scale": {"domain": [-0.338, 0.858], "nice": false, "zero": false}, "axis": {"orient": "right", "values": [-0.2, 0.2, 0.6, 0.8], "format": ".1~f", "title": null, "labelOverlap": false, "labelBaseline": {"condition": {"test": "datum.value == 0.6", "value": "bottom"}, "value": "middle"}, "labelOffset": {"condition": {"test": "datum.value == 0.6", "value": 1}, "value": 0}}}}},
  {"data": {"name": "macd"}, "transform": [{"filter": "datum.i == 155"}],
   "mark": {"type": "text", "align": "left", "baseline": "middle", "dx": 5, "fontSize": 11, "color": "#e06060"},
   "encoding": {
    "x": {"datum": 166.8, "type": "quantitative", "scale": {"domain": [-0.9, 166.8], "nice": false, "zero": false}, "axis": null},
    "y": {"field": "s", "type": "quantitative", "scale": {"domain": [-0.338, 0.858], "nice": false, "zero": false}, "axis": {"orient": "right", "values": [-0.2, 0.2, 0.6, 0.8], "format": ".1~f", "title": null, "labelOverlap": false, "labelBaseline": {"condition": {"test": "datum.value == 0.6", "value": "bottom"}, "value": "middle"}, "labelOffset": {"condition": {"test": "datum.value == 0.6", "value": 1}, "value": 0}}},
    "text": {"field": "s", "type": "quantitative", "format": ".5~r"}}},
  {"data": {"name": "px"}, "transform": [{"filter": "datum.i == 155"}],
   "mark": {"type": "point", "shape": "M0,-1H6V1H0Z", "size": 196, "filled": true, "fill": "#ffffff", "stroke": "#808080", "strokeWidth": 1, "opacity": 1, "xOffset": 3},
   "encoding": {
    "x": {"datum": 166.8, "type": "quantitative", "scale": {"domain": [-0.9, 166.8], "nice": false, "zero": false}, "axis": null},
    "y": {"field": "hs", "type": "quantitative", "scale": {"domain": [-0.338, 0.858], "nice": false, "zero": false}, "axis": {"orient": "right", "values": [-0.2, 0.2, 0.6, 0.8], "format": ".1~f", "title": null, "labelOverlap": false, "labelBaseline": {"condition": {"test": "datum.value == 0.6", "value": "bottom"}, "value": "middle"}, "labelOffset": {"condition": {"test": "datum.value == 0.6", "value": 1}, "value": 0}}}}},
  {"data": {"name": "px"}, "transform": [{"filter": "datum.i == 155"}],
   "mark": {"type": "text", "align": "left", "baseline": "middle", "dx": 5, "fontSize": 11, "color": "#e06060"},
   "encoding": {
    "x": {"datum": 166.8, "type": "quantitative", "scale": {"domain": [-0.9, 166.8], "nice": false, "zero": false}, "axis": null},
    "y": {"field": "hs", "type": "quantitative", "scale": {"domain": [-0.338, 0.858], "nice": false, "zero": false}, "axis": {"orient": "right", "values": [-0.2, 0.2, 0.6, 0.8], "format": ".1~f", "title": null, "labelOverlap": false, "labelBaseline": {"condition": {"test": "datum.value == 0.6", "value": "bottom"}, "value": "middle"}, "labelOffset": {"condition": {"test": "datum.value == 0.6", "value": 1}, "value": 0}}},
    "text": {"field": "hs", "type": "quantitative", "format": ".5~r"}}}
 ]
},
{
 "width": 848, "height": 520,
 "layer": [
  {"data": {"name": "res"}, "mark": {"type": "rule", "color": "#ff0000", "strokeWidth": 1, "strokeDash": [10, 6]},
   "encoding": {"y": {"field": "p", "type": "quantitative", "scale": {"domain": [3.899, 11.435], "nice": false, "zero": false},
      "axis": {"orient": "right", "values": [4, 4.5, 5, 5.5, 6, 6.5, 7, 7.5, 8, 8.5, 9, 9.5, 10.5, 11], "format": ".2~f", "title": null, "labelFontWeight": {"condition": {"test": "datum.value == 5 || datum.value == 10", "value": "bold"}, "value": "normal"}, "labelBaseline": {"condition": [{"test": "datum.value == 9.5", "value": "top"}, {"test": "datum.value == 6", "value": "bottom"}], "value": "middle"}}}}},
  {"data": {"name": "sup"}, "mark": {"type": "rule", "color": "#008800", "strokeWidth": 1, "strokeDash": [12, 7]},
   "encoding": {"y": {"field": "p", "type": "quantitative", "scale": {"domain": [3.899, 11.435], "nice": false, "zero": false},
      "axis": {"orient": "right", "values": [4, 4.5, 5, 5.5, 6, 6.5, 7, 7.5, 8, 8.5, 9, 9.5, 10.5, 11], "format": ".2~f", "title": null, "labelFontWeight": {"condition": {"test": "datum.value == 5 || datum.value == 10", "value": "bold"}, "value": "normal"}, "labelBaseline": {"condition": [{"test": "datum.value == 9.5", "value": "top"}, {"test": "datum.value == 6", "value": "bottom"}], "value": "middle"}}}}},
  {"data": {"name": "ma"}, "mark": {"type": "line", "strokeWidth": 1},
   "encoding": {
    "x": {"field": "i", "type": "quantitative", "scale": {"domain": [-0.9, 166.8], "nice": false, "zero": false},
      "axis": {"orient": "bottom", "values": [3, 11, 15, 21, 27, 34, 39, 45, 53, 57, 63, 69, 74, 81, 87, 95, 99, 105, 115, 123, 129, 136, 141, 147, 155, 159, 165],
        "labelExpr": "['20','ago','07','15','23','sep','11','19','oct','05','15','23','nov','12','20','dic','07','17','2013','14','23','feb','08','19','mar','07','15'][indexof([3,11,15,21,27,34,39,45,53,57,63,69,74,81,87,95,99,105,115,123,129,136,141,147,155,159,165], datum.value)]",
        "labelFontWeight": {"condition": {"test": "indexof([11,34,53,74,95,115,136,155], datum.value) >= 0", "value": "bold"}, "value": "normal"},
        "labelFontSize": {"condition": {"test": "indexof([11,34,53,74,95,115,136,155], datum.value) >= 0", "value": 12}, "value": 11},
        "labelOverlap": false, "labelFlush": false, "tickSize": 3, "labelPadding": 2,
        "title": "© ProRealTime.com  Históricos ajustados con dividendos", "titleX": 4, "titleY": -5, "titleAlign": "left", "titleAnchor": "start", "titleBaseline": "alphabetic", "titleFontWeight": "normal", "titleFontSize": 11, "titleColor": "#000000"}},
    "y": {"field": "v", "type": "quantitative", "scale": {"domain": [3.899, 11.435], "nice": false, "zero": false},
      "axis": {"orient": "right", "values": [4, 4.5, 5, 5.5, 6, 6.5, 7, 7.5, 8, 8.5, 9, 9.5, 10.5, 11], "format": ".2~f", "title": null, "labelFontWeight": {"condition": {"test": "datum.value == 5 || datum.value == 10", "value": "bold"}, "value": "normal"}, "labelBaseline": {"condition": [{"test": "datum.value == 9.5", "value": "top"}, {"test": "datum.value == 6", "value": "bottom"}], "value": "middle"}}},
    "color": {"field": "s", "type": "nominal", "scale": {"domain": ["26", "200", "13"], "range": ["#990000", "#0000ff", "#000000"]},
      "legend": {"title": "Precio", "titleOrient": "left", "titleFontWeight": "normal", "titleFontSize": 11, "titleColor": "#000000", "titlePadding": 4, "labelExpr": "'MM (Simple ' + datum.label + ')'",
        "labelColor": {"expr": "datum.value == '26' ? '#aa0000' : (datum.value == '200' ? '#0000ff' : '#000000')"}}},
    "strokeDash": {"field": "s", "type": "nominal", "scale": {"domain": ["26", "200", "13"], "range": [[2, 3], [4, 3], [2, 3]]}, "legend": null}}},
  {"data": {"name": "px"}, "mark": {"type": "rule", "color": "#000000", "strokeWidth": 1},
   "encoding": {
    "x": {"field": "i", "type": "quantitative", "scale": {"domain": [-0.9, 166.8], "nice": false, "zero": false},
      "axis": {"orient": "bottom", "values": [3, 11, 15, 21, 27, 34, 39, 45, 53, 57, 63, 69, 74, 81, 87, 95, 99, 105, 115, 123, 129, 136, 141, 147, 155, 159, 165],
        "labelExpr": "['20','ago','07','15','23','sep','11','19','oct','05','15','23','nov','12','20','dic','07','17','2013','14','23','feb','08','19','mar','07','15'][indexof([3,11,15,21,27,34,39,45,53,57,63,69,74,81,87,95,99,105,115,123,129,136,141,147,155,159,165], datum.value)]",
        "labelFontWeight": {"condition": {"test": "indexof([11,34,53,74,95,115,136,155], datum.value) >= 0", "value": "bold"}, "value": "normal"},
        "labelFontSize": {"condition": {"test": "indexof([11,34,53,74,95,115,136,155], datum.value) >= 0", "value": 12}, "value": 11},
        "labelOverlap": false, "labelFlush": false, "tickSize": 3, "labelPadding": 2,
        "title": "© ProRealTime.com  Históricos ajustados con dividendos", "titleX": 4, "titleY": -5, "titleAlign": "left", "titleAnchor": "start", "titleBaseline": "alphabetic", "titleFontWeight": "normal", "titleFontSize": 11, "titleColor": "#000000"}},
    "y": {"field": "l", "type": "quantitative", "scale": {"domain": [3.899, 11.435], "nice": false, "zero": false},
      "axis": {"orient": "right", "values": [4, 4.5, 5, 5.5, 6, 6.5, 7, 7.5, 8, 8.5, 9, 9.5, 10.5, 11], "format": ".2~f", "title": null, "labelFontWeight": {"condition": {"test": "datum.value == 5 || datum.value == 10", "value": "bold"}, "value": "normal"}, "labelBaseline": {"condition": [{"test": "datum.value == 9.5", "value": "top"}, {"test": "datum.value == 6", "value": "bottom"}], "value": "middle"}}},
    "y2": {"field": "h"}}},
  {"data": {"name": "px"}, "mark": {"type": "bar", "size": 3.5, "stroke": "#000000", "strokeWidth": 1},
   "encoding": {
    "x": {"field": "i", "type": "quantitative", "scale": {"domain": [-0.9, 166.8], "nice": false, "zero": false},
      "axis": {"orient": "bottom", "values": [3, 11, 15, 21, 27, 34, 39, 45, 53, 57, 63, 69, 74, 81, 87, 95, 99, 105, 115, 123, 129, 136, 141, 147, 155, 159, 165],
        "labelExpr": "['20','ago','07','15','23','sep','11','19','oct','05','15','23','nov','12','20','dic','07','17','2013','14','23','feb','08','19','mar','07','15'][indexof([3,11,15,21,27,34,39,45,53,57,63,69,74,81,87,95,99,105,115,123,129,136,141,147,155,159,165], datum.value)]",
        "labelFontWeight": {"condition": {"test": "indexof([11,34,53,74,95,115,136,155], datum.value) >= 0", "value": "bold"}, "value": "normal"},
        "labelFontSize": {"condition": {"test": "indexof([11,34,53,74,95,115,136,155], datum.value) >= 0", "value": 12}, "value": 11},
        "labelOverlap": false, "labelFlush": false, "tickSize": 3, "labelPadding": 2,
        "title": "© ProRealTime.com  Históricos ajustados con dividendos", "titleX": 4, "titleY": -5, "titleAlign": "left", "titleAnchor": "start", "titleBaseline": "alphabetic", "titleFontWeight": "normal", "titleFontSize": 11, "titleColor": "#000000"}},
    "y": {"field": "o", "type": "quantitative", "scale": {"domain": [3.899, 11.435], "nice": false, "zero": false},
      "axis": {"orient": "right", "values": [4, 4.5, 5, 5.5, 6, 6.5, 7, 7.5, 8, 8.5, 9, 9.5, 10.5, 11], "format": ".2~f", "title": null, "labelFontWeight": {"condition": {"test": "datum.value == 5 || datum.value == 10", "value": "bold"}, "value": "normal"}, "labelBaseline": {"condition": [{"test": "datum.value == 9.5", "value": "top"}, {"test": "datum.value == 6", "value": "bottom"}], "value": "middle"}}},
    "y2": {"field": "c"},
    "fill": {"condition": {"test": "datum.c >= datum.o", "value": "#5ee05e"}, "value": "#f07878"}}},
  {"data": {"name": "tr"}, "mark": {"type": "line", "color": "#008000", "strokeWidth": 2.5},
   "encoding": {
    "x": {"field": "i", "type": "quantitative", "scale": {"domain": [-0.9, 166.8], "nice": false, "zero": false},
      "axis": {"orient": "bottom", "values": [3, 11, 15, 21, 27, 34, 39, 45, 53, 57, 63, 69, 74, 81, 87, 95, 99, 105, 115, 123, 129, 136, 141, 147, 155, 159, 165],
        "labelExpr": "['20','ago','07','15','23','sep','11','19','oct','05','15','23','nov','12','20','dic','07','17','2013','14','23','feb','08','19','mar','07','15'][indexof([3,11,15,21,27,34,39,45,53,57,63,69,74,81,87,95,99,105,115,123,129,136,141,147,155,159,165], datum.value)]",
        "labelFontWeight": {"condition": {"test": "indexof([11,34,53,74,95,115,136,155], datum.value) >= 0", "value": "bold"}, "value": "normal"},
        "labelFontSize": {"condition": {"test": "indexof([11,34,53,74,95,115,136,155], datum.value) >= 0", "value": 12}, "value": 11},
        "labelOverlap": false, "labelFlush": false, "tickSize": 3, "labelPadding": 2,
        "title": "© ProRealTime.com  Históricos ajustados con dividendos", "titleX": 4, "titleY": -5, "titleAlign": "left", "titleAnchor": "start", "titleBaseline": "alphabetic", "titleFontWeight": "normal", "titleFontSize": 11, "titleColor": "#000000"}},
    "y": {"field": "p", "type": "quantitative", "scale": {"domain": [3.899, 11.435], "nice": false, "zero": false},
      "axis": {"orient": "right", "values": [4, 4.5, 5, 5.5, 6, 6.5, 7, 7.5, 8, 8.5, 9, 9.5, 10.5, 11], "format": ".2~f", "title": null, "labelFontWeight": {"condition": {"test": "datum.value == 5 || datum.value == 10", "value": "bold"}, "value": "normal"}, "labelBaseline": {"condition": [{"test": "datum.value == 9.5", "value": "top"}, {"test": "datum.value == 6", "value": "bottom"}], "value": "middle"}}}}},
  {"data": {"name": "px"}, "transform": [{"filter": "datum.i == 155"}],
   "mark": {"type": "point", "shape": "M0,-1H3.8V1H0Z", "size": 196, "filled": true, "fill": "#ffdd00", "stroke": "#b09000", "strokeWidth": 1, "opacity": 1, "xOffset": 3},
   "encoding": {
    "x": {"datum": 166.8, "type": "quantitative", "scale": {"domain": [-0.9, 166.8], "nice": false, "zero": false},
      "axis": {"orient": "bottom", "values": [3, 11, 15, 21, 27, 34, 39, 45, 53, 57, 63, 69, 74, 81, 87, 95, 99, 105, 115, 123, 129, 136, 141, 147, 155, 159, 165],
        "labelExpr": "['20','ago','07','15','23','sep','11','19','oct','05','15','23','nov','12','20','dic','07','17','2013','14','23','feb','08','19','mar','07','15'][indexof([3,11,15,21,27,34,39,45,53,57,63,69,74,81,87,95,99,105,115,123,129,136,141,147,155,159,165], datum.value)]",
        "labelFontWeight": {"condition": {"test": "indexof([11,34,53,74,95,115,136,155], datum.value) >= 0", "value": "bold"}, "value": "normal"},
        "labelFontSize": {"condition": {"test": "indexof([11,34,53,74,95,115,136,155], datum.value) >= 0", "value": 12}, "value": 11},
        "labelOverlap": false, "labelFlush": false, "tickSize": 3, "labelPadding": 2,
        "title": "© ProRealTime.com  Históricos ajustados con dividendos", "titleX": 4, "titleY": -5, "titleAlign": "left", "titleAnchor": "start", "titleBaseline": "alphabetic", "titleFontWeight": "normal", "titleFontSize": 11, "titleColor": "#000000"}},
    "y": {"field": "c", "type": "quantitative", "scale": {"domain": [3.899, 11.435], "nice": false, "zero": false},
      "axis": {"orient": "right", "values": [4, 4.5, 5, 5.5, 6, 6.5, 7, 7.5, 8, 8.5, 9, 9.5, 10.5, 11], "format": ".2~f", "title": null, "labelFontWeight": {"condition": {"test": "datum.value == 5 || datum.value == 10", "value": "bold"}, "value": "normal"}, "labelBaseline": {"condition": [{"test": "datum.value == 9.5", "value": "top"}, {"test": "datum.value == 6", "value": "bottom"}], "value": "middle"}}}}},
  {"data": {"name": "px"}, "transform": [{"filter": "datum.i == 155"}],
   "mark": {"type": "text", "align": "left", "baseline": "middle", "dx": 5, "fontSize": 11, "color": "#000000"},
   "encoding": {
    "x": {"datum": 166.8, "type": "quantitative", "scale": {"domain": [-0.9, 166.8], "nice": false, "zero": false},
      "axis": {"orient": "bottom", "values": [3, 11, 15, 21, 27, 34, 39, 45, 53, 57, 63, 69, 74, 81, 87, 95, 99, 105, 115, 123, 129, 136, 141, 147, 155, 159, 165],
        "labelExpr": "['20','ago','07','15','23','sep','11','19','oct','05','15','23','nov','12','20','dic','07','17','2013','14','23','feb','08','19','mar','07','15'][indexof([3,11,15,21,27,34,39,45,53,57,63,69,74,81,87,95,99,105,115,123,129,136,141,147,155,159,165], datum.value)]",
        "labelFontWeight": {"condition": {"test": "indexof([11,34,53,74,95,115,136,155], datum.value) >= 0", "value": "bold"}, "value": "normal"},
        "labelFontSize": {"condition": {"test": "indexof([11,34,53,74,95,115,136,155], datum.value) >= 0", "value": 12}, "value": 11},
        "labelOverlap": false, "labelFlush": false, "tickSize": 3, "labelPadding": 2,
        "title": "© ProRealTime.com  Históricos ajustados con dividendos", "titleX": 4, "titleY": -5, "titleAlign": "left", "titleAnchor": "start", "titleBaseline": "alphabetic", "titleFontWeight": "normal", "titleFontSize": 11, "titleColor": "#000000"}},
    "y": {"field": "c", "type": "quantitative", "scale": {"domain": [3.899, 11.435], "nice": false, "zero": false},
      "axis": {"orient": "right", "values": [4, 4.5, 5, 5.5, 6, 6.5, 7, 7.5, 8, 8.5, 9, 9.5, 10.5, 11], "format": ".2~f", "title": null, "labelFontWeight": {"condition": {"test": "datum.value == 5 || datum.value == 10", "value": "bold"}, "value": "normal"}, "labelBaseline": {"condition": [{"test": "datum.value == 9.5", "value": "top"}, {"test": "datum.value == 6", "value": "bottom"}], "value": "middle"}}},
    "text": {"field": "c", "type": "quantitative", "format": ".5~r"}}},
  {"data": {"name": "ma"}, "transform": [{"filter": "datum.i == 155"}],
   "mark": {"type": "point", "shape": "M0,-1H5.43V1H0Z", "size": 196, "filled": true, "fill": "#ffffff", "stroke": "#808080", "strokeWidth": 1, "opacity": 1, "xOffset": 3},
   "encoding": {
    "x": {"datum": 166.8, "type": "quantitative", "scale": {"domain": [-0.9, 166.8], "nice": false, "zero": false},
      "axis": {"orient": "bottom", "values": [3, 11, 15, 21, 27, 34, 39, 45, 53, 57, 63, 69, 74, 81, 87, 95, 99, 105, 115, 123, 129, 136, 141, 147, 155, 159, 165],
        "labelExpr": "['20','ago','07','15','23','sep','11','19','oct','05','15','23','nov','12','20','dic','07','17','2013','14','23','feb','08','19','mar','07','15'][indexof([3,11,15,21,27,34,39,45,53,57,63,69,74,81,87,95,99,105,115,123,129,136,141,147,155,159,165], datum.value)]",
        "labelFontWeight": {"condition": {"test": "indexof([11,34,53,74,95,115,136,155], datum.value) >= 0", "value": "bold"}, "value": "normal"},
        "labelFontSize": {"condition": {"test": "indexof([11,34,53,74,95,115,136,155], datum.value) >= 0", "value": 12}, "value": 11},
        "labelOverlap": false, "labelFlush": false, "tickSize": 3, "labelPadding": 2,
        "title": "© ProRealTime.com  Históricos ajustados con dividendos", "titleX": 4, "titleY": -5, "titleAlign": "left", "titleAnchor": "start", "titleBaseline": "alphabetic", "titleFontWeight": "normal", "titleFontSize": 11, "titleColor": "#000000"}},
    "y": {"field": "v", "type": "quantitative", "scale": {"domain": [3.899, 11.435], "nice": false, "zero": false},
      "axis": {"orient": "right", "values": [4, 4.5, 5, 5.5, 6, 6.5, 7, 7.5, 8, 8.5, 9, 9.5, 10.5, 11], "format": ".2~f", "title": null, "labelFontWeight": {"condition": {"test": "datum.value == 5 || datum.value == 10", "value": "bold"}, "value": "normal"}, "labelBaseline": {"condition": [{"test": "datum.value == 9.5", "value": "top"}, {"test": "datum.value == 6", "value": "bottom"}], "value": "middle"}}}}},
  {"data": {"name": "ma"}, "transform": [{"filter": "datum.i == 155"}],
   "mark": {"type": "text", "align": "left", "baseline": "middle", "dx": 5, "fontSize": 11},
   "encoding": {
    "x": {"datum": 166.8, "type": "quantitative", "scale": {"domain": [-0.9, 166.8], "nice": false, "zero": false},
      "axis": {"orient": "bottom", "values": [3, 11, 15, 21, 27, 34, 39, 45, 53, 57, 63, 69, 74, 81, 87, 95, 99, 105, 115, 123, 129, 136, 141, 147, 155, 159, 165],
        "labelExpr": "['20','ago','07','15','23','sep','11','19','oct','05','15','23','nov','12','20','dic','07','17','2013','14','23','feb','08','19','mar','07','15'][indexof([3,11,15,21,27,34,39,45,53,57,63,69,74,81,87,95,99,105,115,123,129,136,141,147,155,159,165], datum.value)]",
        "labelFontWeight": {"condition": {"test": "indexof([11,34,53,74,95,115,136,155], datum.value) >= 0", "value": "bold"}, "value": "normal"},
        "labelFontSize": {"condition": {"test": "indexof([11,34,53,74,95,115,136,155], datum.value) >= 0", "value": 12}, "value": 11},
        "labelOverlap": false, "labelFlush": false, "tickSize": 3, "labelPadding": 2,
        "title": "© ProRealTime.com  Históricos ajustados con dividendos", "titleX": 4, "titleY": -5, "titleAlign": "left", "titleAnchor": "start", "titleBaseline": "alphabetic", "titleFontWeight": "normal", "titleFontSize": 11, "titleColor": "#000000"}},
    "y": {"field": "v", "type": "quantitative", "scale": {"domain": [3.899, 11.435], "nice": false, "zero": false},
      "axis": {"orient": "right", "values": [4, 4.5, 5, 5.5, 6, 6.5, 7, 7.5, 8, 8.5, 9, 9.5, 10.5, 11], "format": ".2~f", "title": null, "labelFontWeight": {"condition": {"test": "datum.value == 5 || datum.value == 10", "value": "bold"}, "value": "normal"}, "labelBaseline": {"condition": [{"test": "datum.value == 9.5", "value": "top"}, {"test": "datum.value == 6", "value": "bottom"}], "value": "middle"}}},
    "text": {"field": "v", "type": "quantitative", "format": ".5~r"},
    "fill": {"condition": [{"test": "datum.s == '26'", "value": "#990000"}, {"test": "datum.s == '200'", "value": "#0000ff"}], "value": "#000000"}}}
 ]
}
]
}
